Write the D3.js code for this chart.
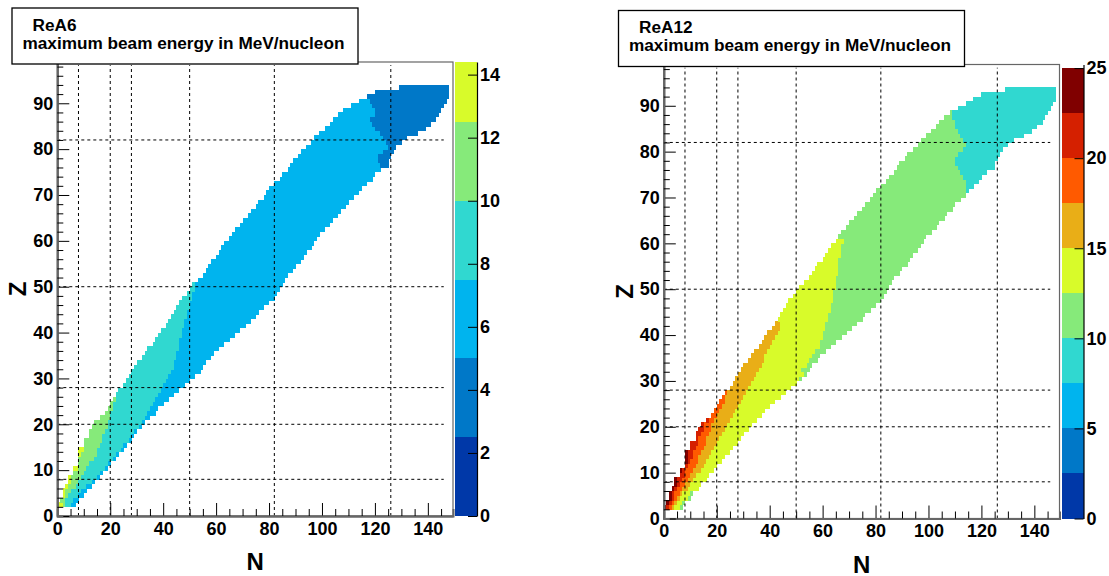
<!DOCTYPE html>
<html>
<head>
<meta charset="utf-8">
<script src="https://cdn.jsdelivr.net/npm/d3@7"></script>
<style>
body { margin: 0; background: #fff; }
text { font-family: "Liberation Sans", Arial, sans-serif; font-weight: bold; fill: #000; }
</style>
</head>
<body>
<script>
const width = 1109, height = 576;

// ---- data: one entry per Z, starting at Z = 2 ----
const zFirst = 2;
// nuclide chart outline (left and right N edge of every Z row)
const nMin = [0,1,2,2,3,4,4,6,6,8, 8,8,8,10,10,12,12,13,14,16,
  18,19,20,21,22,23,25,26,27,28, 29,30,32,33,34,36,37,38,39,41,
  42,43,44,45,46,47,49,50,51,53, 55,56,57,58,60,61,62,63,65,66,
  67,69,70,72,73,75,76,78,79,80, 82,84,85,87,88,89,91,92,94,96,
  97,99,101,103,104,106,108,111,114,117, 120,129];
const nMax = [7,8,10,11,13,14,16,17,19,20, 22,23,25,26,28,29,30,32,33,35,
  37,38,40,42,44,46,48,50,52,54, 55,56,58,59,61,63,65,67,69,71,
  73,75,76,78,80,82,83,84,85,86, 87,89,90,92,93,94,96,97,98,99,
  101,103,104,106,107,109,110,112,114,115, 117,119,120,122,125,125,126,127,128,130,
  132,136,139,141,143,144,145,146,147,148, 148,148];

// ReA6: N where each lower energy band starts (0 = band absent, 150 = not reached)
const a6Green = [2,0,3,3,4,5,5,6,8,0, 0,9,10,0,0,0,0,0,0,0,
  0,0,0,0,0,0,0,0,0,0, 0,0,0,0,0,0,0,0,0,0,
  0,0,0,0,0,0,0,0,0,0, 0,0,0,0,0,0,0,0,0,0,
  0,0,0,0,0,0,0,0,0,0, 0,0,0,0,0,0,0,0,0,0,
  0,0,0,0,0,0,0,0,0,0, 0,0];
const a6Teal = [3,3,4,5,7,8,9,10,11,12, 14,15,15,16,17,17,18,19,19,20,
  20,21,21,22,22,0,0,0,0,0, 0,0,0,0,0,0,0,0,0,0,
  0,0,0,0,0,0,0,0,0,0, 0,0,0,0,0,0,0,0,0,0,
  0,0,0,0,0,0,0,0,0,0, 0,0,0,0,0,0,0,0,0,0,
  0,0,0,0,0,0,0,0,0,0, 0,0];
const a6Blue = [5,6,8,9,11,13,15,16,18,19, 21,22,24,25,27,28,29,31,32,33,
  34,35,36,37,38,39,40,41,42,43, 44,44,45,45,46,46,46,47,47,48,
  48,49,49,50,50,51,51,52,52,0, 0,0,0,0,0,0,0,0,0,0,
  0,0,0,0,0,0,0,0,0,0, 0,0,0,0,0,0,0,0,0,0,
  0,0,0,0,0,0,0,0,0,0, 0,0];
const a6Dark = [150,150,150,150,150,150,150,150,150,150, 150,150,150,150,150,150,150,150,150,150,
  150,150,150,150,150,150,150,150,150,150, 150,150,150,150,150,150,150,150,150,150,
  150,150,150,150,150,150,150,150,150,150, 150,150,150,150,150,150,150,150,150,150,
  150,150,150,150,150,150,150,150,150,150, 150,150,150,150,122,121,121,123,125,124,
  123,122,120,119,118,120,120,119,118,0, 0,0];

// ReA12: N where each lower energy band starts
const a12Red = [1,2,3,3,4,5,5,6,7,8, 9,9,9,0,0,0,0,0,0,0,
  0,0,0,0,0,0,0,0,0,0, 0,0,0,0,0,0,0,0,0,0,
  0,0,0,0,0,0,0,0,0,0, 0,0,0,0,0,0,0,0,0,0,
  0,0,0,0,0,0,0,0,0,0, 0,0,0,0,0,0,0,0,0,0,
  0,0,0,0,0,0,0,0,0,0, 0,0];
const a12OrRed = [2,3,4,4,5,6,7,8,8,9, 10,11,11,12,13,13,14,15,15,17,
  0,0,0,0,0,0,0,0,0,0, 0,0,0,0,0,0,0,0,0,0,
  0,0,0,0,0,0,0,0,0,0, 0,0,0,0,0,0,0,0,0,0,
  0,0,0,0,0,0,0,0,0,0, 0,0,0,0,0,0,0,0,0,0,
  0,0,0,0,0,0,0,0,0,0, 0,0];
const a12Orange = [3,4,5,6,7,8,9,10,11,12, 13,13,14,15,16,16,17,18,18,19,
  20,21,22,23,23,24,25,0,0,0, 0,0,0,0,0,0,0,0,0,0,
  0,0,0,0,0,0,0,0,0,0, 0,0,0,0,0,0,0,0,0,0,
  0,0,0,0,0,0,0,0,0,0, 0,0,0,0,0,0,0,0,0,0,
  0,0,0,0,0,0,0,0,0,0, 0,0];
const a12Yellow = [4,5,6,7,9,10,11,12,14,15, 16,17,18,19,20,21,22,23,24,25,
  26,27,28,29,30,31,32,33,34,35, 36,37,38,38,39,40,41,42,43,44,
  44,0,0,0,0,0,0,0,0,0, 0,0,0,0,0,0,0,0,0,0,
  0,0,0,0,0,0,0,0,0,0, 0,0,0,0,0,0,0,0,0,0,
  0,0,0,0,0,0,0,0,0,0, 0,0];
const a12Green = [6,7,9,10,150,150,150,150,150,150, 150,150,150,150,150,150,150,150,150,150,
  150,150,150,150,150,150,150,150,51,53, 52,54,55,56,57,59,59,60,60,61,
  61,62,62,63,63,64,64,64,65,65, 65,66,66,66,66,67,67,67,68,0,
  0,0,0,0,0,0,0,0,0,0, 0,0,0,0,0,0,0,0,0,0,
  0,0,0,0,0,0,0,0,0,0, 0,0];
const a12Teal = [150,150,150,150,150,150,150,150,150,150, 150,150,150,150,150,150,150,150,150,150,
  150,150,150,150,150,150,150,150,150,150, 150,150,150,150,150,150,150,150,150,150,
  150,150,150,150,150,150,150,150,150,150, 150,150,150,150,150,150,150,150,150,150,
  150,150,150,150,150,150,150,150,150,114, 114,114,113,112,111,110,110,111,113,114,
  113,112,111,110,110,109,109,0,0,0, 0,0];

// colour bands of the palette, 2.5 MeV/u each
const bandColors = ["#0038a8","#0078c8","#00b4ee","#30d8d0","#86ea7a",
  "#d8fb2a","#e9ae17","#ff5a00","#d52000","#800000"];
const bandStep = 2.5;

const magicN = [8, 20, 28, 50, 82, 126];
const magicZ = [8, 20, 28, 50, 82];

const xTicks = [0, 20, 40, 60, 80, 100, 120, 140];
const yTicks = [0, 10, 20, 30, 40, 50, 60, 70, 80, 90];

const panels = [
  {title: "ReA6", subtitle: "maximum beam energy in MeV/nucleon", dx: 0, dy: 0,
   topBand: 5, starts: [a6Green, a6Teal, a6Blue, a6Dark], zTop: 14.4,
   zTicks: [0, 2, 4, 6, 8, 10, 12, 14]},
  {title: "ReA12", subtitle: "maximum beam energy in MeV/nucleon", dx: 606.5, dy: 2.5,
   topBand: 9, starts: [a12Red, a12OrRed, a12Orange, a12Yellow, a12Green, a12Teal], zTop: 25.2,
   zTicks: [0, 5, 10, 15, 20, 25]}
];

const svg = d3.select("body").append("svg")
  .attr("width", width)
  .attr("height", height);

function drawPanel(p) {
  const g = svg.append("g").attr("transform", `translate(${p.dx},${p.dy})`);
  const left = 57.3, right = 453, top = 62, bottom = 516;

  const x = d3.scaleLinear().domain([0, 149.5]).range([left, right]);
  const y = d3.scaleLinear().domain([0, 99]).range([bottom, top]);

  // cells
  const cells = [];
  nMin.forEach((lo, i) => {
    const z = zFirst + i, hi = nMax[i];
    const edges = [lo];
    p.starts.forEach(arr => edges.push(Math.min(hi, Math.max(edges[edges.length - 1], arr[i]))));
    edges.push(hi);
    for (let b = 0; b < edges.length - 1; b++) {
      for (let n = edges[b]; n < edges[b + 1]; n++) {
        cells.push({n, z, band: p.topBand - b});
      }
    }
  });

  g.append("g").selectAll("rect")
    .data(cells)
    .join("rect")
    .attr("x", d => x(d.n))
    .attr("y", d => y(d.z + 1))
    .attr("width", x(1) - x(0) + 0.4)
    .attr("height", y(0) - y(1) + 0.4)
    .attr("fill", d => bandColors[d.band])
    .attr("shape-rendering", "crispEdges");

  // magic number lines
  g.append("g").selectAll("line")
    .data(magicN)
    .join("line")
    .attr("x1", d => x(d)).attr("x2", d => x(d))
    .attr("y1", y(0)).attr("y2", y(98.3))
    .attr("stroke", "#000").attr("stroke-dasharray", "3,3");
  g.append("g").selectAll("line")
    .data(magicZ)
    .join("line")
    .attr("x1", x(0)).attr("x2", x(146))
    .attr("y1", d => y(d)).attr("y2", d => y(d))
    .attr("stroke", "#000").attr("stroke-dasharray", "3,3");

  // frame
  g.append("rect")
    .attr("x", left).attr("y", top)
    .attr("width", right - left).attr("height", bottom - top)
    .attr("fill", "none").attr("stroke", "#666").attr("stroke-width", 1.2);

  // axes, ticks inside the frame as in ROOT
  g.append("g").attr("transform", `translate(0,${bottom})`)
    .call(d3.axisBottom(x).tickValues(xTicks).tickSizeInner(-13).tickSizeOuter(0).tickPadding(6));
  g.append("g").attr("transform", `translate(0,${bottom})`)
    .call(d3.axisBottom(x).tickValues(d3.range(5, 149, 5).filter(v => v % 20)).tickSize(-7).tickFormat(""));
  g.append("g").attr("transform", `translate(${left},0)`)
    .call(d3.axisLeft(y).tickValues(yTicks).tickSizeInner(-12).tickSizeOuter(0).tickPadding(4));
  g.append("g").attr("transform", `translate(${left},0)`)
    .call(d3.axisLeft(y).tickValues(d3.range(2, 99, 2).filter(v => v % 10)).tickSize(-6).tickFormat(""));
  g.selectAll(".domain").attr("stroke", "#666").attr("stroke-width", 2);
  g.selectAll(".tick line").attr("stroke", "#000");
  g.selectAll(".tick text").attr("font-size", 18).attr("font-weight", "bold")
    .attr("font-family", "'Liberation Sans', Arial, sans-serif");

  // axis titles
  g.append("text").attr("x", (left + right) / 2).attr("y", 570)
    .attr("text-anchor", "middle").attr("font-size", 24).text("N");
  g.append("text").attr("transform", `translate(26,${(top + bottom) / 2}) rotate(-90)`)
    .attr("text-anchor", "middle").attr("font-size", 24).text("Z");

  // colour bar
  const cbL = 455, cbR = 477;
  const zc = d3.scaleLinear().domain([0, p.zTop]).range([bottom, top]);
  const bands = d3.range(0, p.topBand + 1);
  g.append("g").selectAll("rect")
    .data(bands)
    .join("rect")
    .attr("x", cbL)
    .attr("y", b => zc(Math.min(p.zTop, (b + 1) * bandStep)))
    .attr("width", cbR - cbL)
    .attr("height", b => zc(b * bandStep) - zc(Math.min(p.zTop, (b + 1) * bandStep)))
    .attr("fill", b => bandColors[b])
    .attr("shape-rendering", "crispEdges");
  g.append("g").attr("transform", `translate(${cbR},0)`)
    .call(d3.axisRight(zc).tickValues(p.zTicks).tickSizeInner(-9).tickSizeOuter(0).tickPadding(3))
    .call(a => a.select(".domain").attr("stroke", "#000").attr("stroke-width", 1.2))
    .call(a => a.selectAll(".tick line").attr("stroke", "#000"))
    .call(a => a.selectAll(".tick text").attr("font-size", 18).attr("font-weight", "bold")
      .attr("font-family", "'Liberation Sans', Arial, sans-serif"));

  // title box
  const box = g.append("g");
  box.append("rect").attr("x", 12).attr("y", 8).attr("width", 346).attr("height", 56)
    .attr("fill", "#fff").attr("stroke", "#000").attr("stroke-width", 1.3);
  box.append("text").attr("x", 32.5).attr("y", 30.5).attr("font-size", 17.2).text(p.title);
  box.append("text").attr("x", 22.5).attr("y", 48.5).attr("font-size", 17.2).text(p.subtitle);
}

panels.forEach(drawPanel);
</script>
</body>
</html>
